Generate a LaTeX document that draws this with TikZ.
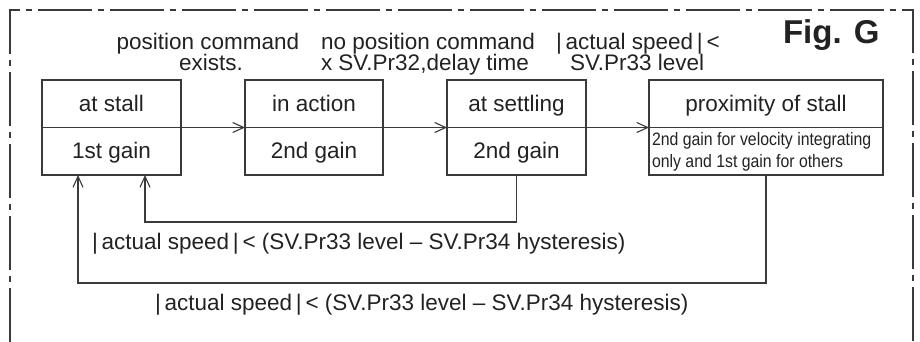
\documentclass[tikz,border=0pt]{standalone}
\usepackage{fontspec}
\setmainfont{Liberation Sans}
\newfontfamily\narrowfont[FakeStretch=0.88]{Liberation Sans}
\usetikzlibrary{arrows.meta}
\definecolor{ink}{HTML}{222222}
\definecolor{wire}{HTML}{3A3A3A}
\begin{document}
\begin{tikzpicture}[x=1pt,y=-1pt,
  every node/.style={inner sep=0pt,outer sep=0pt,text=ink},
  main/.style={font=\fontsize{22.5}{26}\selectfont},
  small/.style={font=\narrowfont\fontsize{18}{21}\selectfont},
  title/.style={font=\fontsize{33}{38}\selectfont\bfseries},
  statebox/.style={draw=wire,line width=1.3pt,rectangle,minimum height=95pt},
  flow/.style={draw=wire,line width=1.2pt,-{Straight Barb[length=11pt,width=10pt,line width=1.1pt]}},
  frame/.style={draw=wire,line width=1.6pt,dash pattern=on 54pt off 6pt on 6pt off 6pt}]
\useasboundingbox (0,0) rectangle (920,342);

% dash-dot frame, open at the bottom
\draw[frame] (10,342) -- (10,10) -- (913,10) -- (913,342);

\node[title,anchor=base west] (fig) at (783,44) {Fig. G};

% the four states
\node[statebox,minimum width=139pt] (b1) at (111.5,127.5) {};
\node[statebox,minimum width=138pt] (b2) at (314,127.5) {};
\node[statebox,minimum width=139pt] (b3) at (516.5,127.5) {};
\node[statebox,minimum width=234pt] (b4) at (766,127.5) {};
\foreach \b in {b1,b2,b3,b4}
  \draw[draw=wire,line width=1.3pt] (\b.west) -- (\b.east);

\node[main,anchor=base] (s1) at (111.5,112) {at stall};
\node[main,anchor=base] (g1) at (111.5,158) {1st gain};
\node[main,anchor=base] (s2) at (314,112) {in action};
\node[main,anchor=base] (g2) at (314,158) {2nd gain};
\node[main,anchor=base] (s3) at (516.5,112) {at settling};
\node[main,anchor=base] (g3) at (516.5,158) {2nd gain};
\node[main,anchor=base] (s4) at (766,112) {proximity of stall};
\node[small,anchor=base west] (g4a) at (652,146) {2nd gain for velocity integrating};
\node[small,anchor=base west] (g4b) at (652,167) {only and 1st gain for others};

% transition conditions
\node[main,anchor=base] (c1a) at (208,50) {position command};
\node[main,anchor=base] (c1b) at (211,71) {exists.};
\node[main,anchor=base west] (c2a) at (321,50) {no position command};
\node[main,anchor=base west] (c2b) at (321,71) {x SV.Pr32,delay time};
\node[main,anchor=base west] (c3a) at (556,50) {|\,actual speed\,|\,<};
\node[main,anchor=base west] (c3b) at (570,71) {SV.Pr33 level};

% forward transitions
\draw[flow] (b1.east) -- (b2.west);
\draw[flow] (b2.east) -- (b3.west);
\draw[flow] (b3.east) -- (b4.west);

% return transitions
\draw[flow] (b3.south) -- ++(0,47) -| ([xshift=33.5pt]b1.south);
\draw[flow] (b4.south) -- ++(0,108) -| ([xshift=-33.5pt]b1.south);

\node[main,anchor=base west] (r1) at (92,249) {|\,actual speed\,|\,< (SV.Pr33 level -- SV.Pr34 hysteresis)};
\node[main,anchor=base west] (r2) at (155,310) {|\,actual speed\,|\,< (SV.Pr33 level -- SV.Pr34 hysteresis)};
\end{tikzpicture}
\end{document}
